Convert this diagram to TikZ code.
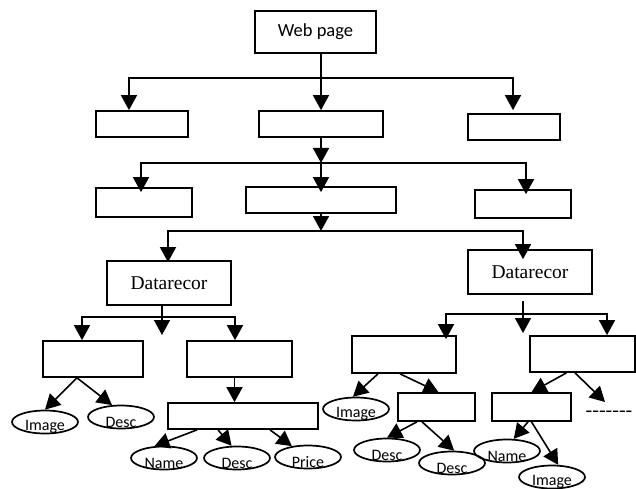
\documentclass[tikz,border=0pt]{standalone}
\usepackage{fontspec}
\usepackage{tikz}
\usetikzlibrary{shapes.geometric, arrows.meta}
\newfontfamily\calibrifont{Carlito}
\newfontfamily\timesfont{Liberation Serif}
\tikzstyle{box}    = [rectangle, draw=black, line width=1.7pt, inner sep=0pt]
\tikzstyle{record} = [box, font=\timesfont\fontsize{19.5}{22}\selectfont]
\tikzstyle{wire}   = [line width=1.6pt]
\tikzstyle{arrow}  = [line width=1.6pt, -{Triangle[length=15pt, width=16pt]}]
\tikzset{leaf/.style={ellipse, draw=black, line width=1.7pt, inner sep=0pt,
    minimum width=66pt, minimum height=23pt,
    label={[font=\calibrifont\fontsize{16}{18}\selectfont, yshift=-5pt]center:#1}}}

\begin{document}
\begin{tikzpicture}[x=1pt, y=-1pt]
    \useasboundingbox (0,0) rectangle (636,489);

    % ── Page and first two levels ──────────────────────────────────────────
    \node (web)  [box, minimum width=121pt, minimum height=42pt,
                  font=\calibrifont\fontsize{18.5}{20}\selectfont] at (315.5,32) {Web page};
    \node (top1) [box, minimum width=92pt,  minimum height=26pt] at (142,124)   {};
    \node (top2) [box, minimum width=124pt, minimum height=26pt] at (321,124)   {};
    \node (top3) [box, minimum width=92pt,  minimum height=26pt] at (514,127)   {};
    \node (mid1) [box, minimum width=96pt,  minimum height=29pt] at (144,202.5) {};
    \node (mid2) [box, minimum width=150pt, minimum height=26pt] at (321,200)   {};
    \node (mid3) [box, minimum width=96pt,  minimum height=28pt] at (523,204)   {};

    % ── Data records ───────────────────────────────────────────────────────
    \node (recL) [record, minimum width=124pt, minimum height=44pt] at (169,283) {Datarecor};
    \node (recR) [record, minimum width=124pt, minimum height=44pt] at (530,272) {Datarecor};

    % ── Record fields ──────────────────────────────────────────────────────
    \node (boxA) [box, minimum width=100pt, minimum height=36pt] at (93,359)    {};
    \node (boxB) [box, minimum width=105pt, minimum height=36pt] at (239.5,359) {};
    \node (boxC) [box, minimum width=150pt, minimum height=26pt] at (243,416)   {};
    \node (boxD) [box, minimum width=104pt, minimum height=37pt] at (404,354.5) {};
    \node (boxE) [box, minimum width=105pt, minimum height=36pt] at (582.5,354) {};
    \node (boxF) [box, minimum width=77pt,  minimum height=28pt] at (436.5,407) {};
    \node (boxG) [box, minimum width=79pt,  minimum height=28pt] at (531.5,407) {};

    % ── Leaves ─────────────────────────────────────────────────────────────
    \node (imgA)  [leaf=Image] at (45,422)  {};
    \node (descA) [leaf=Desc]  at (121,417) {};
    \node (nameA) [leaf=Name]  at (164,458) {};
    \node (descB) [leaf=Desc]  at (237,458) {};
    \node (price) [leaf=Price] at (308,457) {};
    \node (imgB)  [leaf=Image] at (356,409) {};
    \node (descC) [leaf=Desc]  at (387,450) {};
    \node (descD) [leaf=Desc]  at (452,463) {};
    \node (nameB) [leaf=Name]  at (507,451) {};
    \node (imgC)  [leaf=Image] at (552,477) {};
    \node (more)  [font=\timesfont\fontsize{20}{22}\selectfont] at (609,414) {-{}-{}-{}-{}-{}-{}-};

    % ── Bus lines ──────────────────────────────────────────────────────────
    \coordinate (bus1)  at (321,78);
    \coordinate (bus2)  at (321,163);
    \coordinate (bus3)  at (321,231);
    \coordinate (bus4)  at (162,317);
    \coordinate (stub4) at (162,335);
    \coordinate (bus5)  at (523,314);
    \coordinate (stub5) at (523,333);
    \coordinate (loose) at (605,402);

    \draw [wire]  (web.south -| bus1) -- (bus1);
    \draw [arrow] (bus1) -| ([xshift=-13]top1.north);
    \draw [arrow] (bus1) -- (top2.north);
    \draw [arrow] (bus1) -| ([xshift=-1,yshift=3]top3.north);

    \draw [arrow] (top2.south) -- (bus2);
    \draw [arrow] (bus2) -| ([xshift=-3,yshift=-5]mid1.north);
    \draw [arrow] (bus2) -- ([yshift=-6]mid2.north);
    \draw [arrow] (bus2) -| ([xshift=3,yshift=-5]mid3.north);

    \draw [arrow] (mid2.south) -- (bus3);
    \draw [arrow] (bus3) -| ([xshift=-1,yshift=-2]recL.north);
    \draw [arrow] (bus3) -| ([xshift=-7,yshift=-10]recR.north);

    \draw [arrow] (recL.south -| bus4) -- (stub4);
    \draw [arrow] (bus4) -| ([xshift=-11]boxA.north);
    \draw [arrow] (bus4) -| ([xshift=-4.5]boxB.north);

    \draw [arrow] ([yshift=-6]recR.south -| bus5) -- (stub5);
    \draw [arrow] (bus5) -| ([xshift=42,yshift=-4]boxD.north);
    \draw [arrow] (bus5) -| ([xshift=24.5]boxE.north);

    % ── Field links ────────────────────────────────────────────────────────
    \draw [arrow] ([xshift=-16]boxA.south)  -- (imgA.north);
    \draw [arrow] ([xshift=-16]boxA.south)  -- (descA.127);
    \draw [arrow] ([xshift=-5]boxB.south)   -- ([xshift=-5]boxB.south |- boxC.north);
    \draw [arrow] ([xshift=-46]boxC.south)  -- (nameA.129);
    \draw [arrow] ([xshift=-25]boxC.south)  -- (descB.114);
    \draw [arrow] ([xshift=27]boxC.south)   -- (price.146);
    \draw [arrow] ([xshift=-26]boxD.south)  -- (imgB.104);
    \draw [arrow] ([xshift=-4]boxD.south)   -- ([xshift=2]boxF.north);
    \draw [arrow] ([xshift=-16]boxE.south)  -- (boxG.north);
    \draw [arrow] ([xshift=-7.5]boxE.south) -- (loose);
    \draw [arrow] ([xshift=-19.5]boxF.south) -- (descC.north);
    \draw [arrow] ([xshift=-14.5]boxF.south) -- (descD.80);
    \draw [arrow] ([xshift=-3.5]boxG.south) -- (nameB.61);
    \draw [arrow] (boxG.south) -- (imgC.63);

\end{tikzpicture}
\end{document}
